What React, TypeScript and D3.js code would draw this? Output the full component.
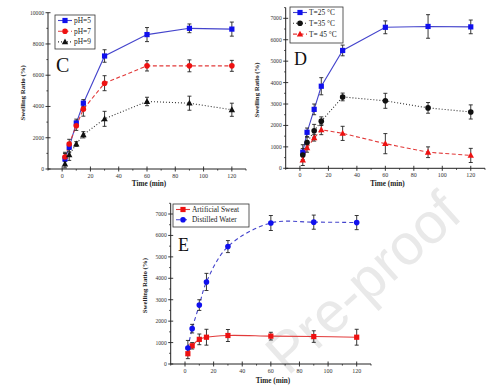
import React, { useEffect, useRef } from 'react';
import * as d3 from 'd3';

// sampling times (min), shared by every panel
const times = [2, 5, 10, 15, 30, 60, 90, 120];
const xTicks = [0, 20, 40, 60, 80, 100, 120];

// panel C: pH
const cPH5 = [640, 1400, 2940, 4210, 7230, 8600, 9000, 8950];
const cPH5Err = [350, 300, 250, 230, 400, 450, 280, 450];
const cPH7 = [770, 1600, 2770, 3830, 5490, 6600, 6600, 6600];
const cPH7Err = [300, 300, 300, 450, 480, 330, 380, 350];
const cPH9 = [320, 900, 1600, 2190, 3210, 4320, 4210, 3790];
const cPH9Err = [250, 350, 150, 200, 480, 270, 450, 420];
const cYTicks = [0, 2000, 4000, 6000, 8000, 10000];

// panel D: temperature
const dT25 = [750, 1680, 2750, 3830, 5500, 6580, 6620, 6600];
const dT25Err = [350, 200, 250, 400, 250, 300, 550, 320];
const dT35 = [620, 1200, 1750, 2200, 3330, 3150, 2820, 2630];
const dT35Err = [300, 250, 300, 200, 180, 350, 250, 330];
const dT45 = [380, 950, 1420, 1800, 1630, 1150, 750, 600];
const dT45Err = [250, 200, 150, 230, 330, 470, 250, 330];
const dYTicks = [0, 1000, 2000, 3000, 4000, 5000, 6000, 7000];

// panel E: medium
const eSweat = [480, 850, 1150, 1250, 1330, 1300, 1280, 1250];
const eSweatErr = [230, 150, 250, 370, 280, 180, 270, 370];
const eWater = [750, 1650, 2750, 3830, 5480, 6580, 6620, 6600];
const eWaterErr = [350, 200, 250, 400, 280, 350, 330, 330];

const BLUE = '#1010ee';
const BLUE_LINE = '#4444cc';
const RED = '#ee1111';
const RED_LINE = '#e23a3a';
const BLACK = '#111';

type Series = {
  name: string;
  values: number[];
  errors: number[];
  color: string;
  lineColor: string;
  dash: string;
  marker: 'square' | 'circle' | 'triangle';
};

type PanelCfg = {
  letter: string;
  x0: number; // pixel of x = -10
  x1: number; // pixel of x = 130
  yBottom: number;
  yTop: number;
  yMax: number;
  yTicks: number[];
  yMinor: number;
  series: Series[];
  curve: d3.CurveFactory;
  legend: { x: number; y: number; w: number; h: number; rowH: number };
  letterPos: [number, number, number];
  yTitleX: number;
  xTitleY: number;
};

const panels: PanelCfg[] = [
  {
    letter: 'C', x0: 48, x1: 246, yBottom: 169, yTop: 12.7, yMax: 10000,
    yTicks: cYTicks, yMinor: 1000, curve: d3.curveLinear,
    series: [
      { name: 'pH=5', values: cPH5, errors: cPH5Err, color: BLUE, lineColor: BLUE_LINE, dash: '', marker: 'square' },
      { name: 'pH=7', values: cPH7, errors: cPH7Err, color: RED, lineColor: RED_LINE, dash: '4,2.5', marker: 'circle' },
      { name: 'pH=9', values: cPH9, errors: cPH9Err, color: BLACK, lineColor: '#333', dash: '1,2', marker: 'triangle' },
    ],
    legend: { x: 55, y: 15, w: 40, h: 34, rowH: 10.7 },
    letterPos: [56, 72, 20], yTitleX: 25, xTitleY: 186,
  },
  {
    letter: 'D', x0: 285.7, x1: 485, yBottom: 168.3, yTop: 7.6, yMax: 7500,
    yTicks: dYTicks, yMinor: 500, curve: d3.curveLinear,
    series: [
      { name: 'T=25 \u00B0C', values: dT25, errors: dT25Err, color: BLUE, lineColor: BLUE_LINE, dash: '', marker: 'square' },
      { name: 'T=35 \u00B0C', values: dT35, errors: dT35Err, color: BLACK, lineColor: '#333', dash: '1,2', marker: 'circle' },
      { name: 'T= 45 \u00B0C', values: dT45, errors: dT45Err, color: RED, lineColor: RED_LINE, dash: '4,2.5', marker: 'triangle' },
    ],
    legend: { x: 290, y: 7, w: 53, h: 36, rowH: 10.8 },
    letterPos: [294, 65, 18], yTitleX: 259, xTitleY: 186,
  },
  {
    letter: 'E', x0: 170.7, x1: 371, yBottom: 364, yTop: 203.3, yMax: 7500,
    yTicks: dYTicks, yMinor: 500, curve: d3.curveCatmullRom,
    series: [
      { name: 'Artificial Sweat', values: eSweat, errors: eSweatErr, color: RED, lineColor: RED_LINE, dash: '', marker: 'square' },
      { name: 'Distilled Water', values: eWater, errors: eWaterErr, color: BLUE, lineColor: BLUE_LINE, dash: '4,3', marker: 'circle' },
    ],
    legend: { x: 173, y: 204, w: 76, h: 23, rowH: 10.2 },
    letterPos: [178, 251, 18], yTitleX: 147, xTitleY: 383,
  },
];

function drawMarker(g: d3.Selection<SVGGElement, unknown, null, undefined>, kind: string, cx: number, cy: number, color: string) {
  if (kind === 'square') {
    g.append('rect').attr('x', cx - 2.6).attr('y', cy - 2.6).attr('width', 5.2).attr('height', 5.2).attr('fill', color);
  } else if (kind === 'circle') {
    g.append('circle').attr('cx', cx).attr('cy', cy).attr('r', 2.8).attr('fill', color);
  } else {
    g.append('path').attr('d', `M${cx},${cy - 3.4}L${cx + 3.2},${cy + 2.4}L${cx - 3.2},${cy + 2.4}Z`).attr('fill', color);
  }
}

const App = () => {
  const ref = useRef<SVGSVGElement | null>(null);

  useEffect(() => {
    if (!ref.current) return;
    const svg = d3.select(ref.current);
    svg.selectAll('*').remove();

    svg.append('rect').attr('width', 500).attr('height', 390).attr('fill', '#fff');

    // watermark behind everything
    svg.append('text')
      .attr('transform', 'translate(366,286) rotate(-42)')
      .attr('text-anchor', 'middle')
      .attr('dominant-baseline', 'middle')
      .attr('font-family', 'Liberation Sans, Arial, sans-serif')
      .attr('font-size', 57)
      .attr('fill', '#e9e9e9')
      .text('Pre-proof');

    panels.forEach((p) => {
      const g = svg.append('g');
      const x = d3.scaleLinear().domain([-10, 130]).range([p.x0, p.x1]);
      const y = d3.scaleLinear().domain([0, p.yMax]).range([p.yBottom, p.yTop]);

      // axes lines
      g.append('line').attr('x1', p.x0).attr('x2', p.x0).attr('y1', p.yBottom).attr('y2', p.yTop)
        .attr('stroke', '#222').attr('stroke-width', 1);
      g.append('line').attr('x1', p.x0).attr('x2', p.x1).attr('y1', p.yBottom).attr('y2', p.yBottom)
        .attr('stroke', '#222').attr('stroke-width', 1);

      // x ticks
      xTicks.forEach((t) => {
        g.append('line').attr('x1', x(t)).attr('x2', x(t)).attr('y1', p.yBottom - 2.5).attr('y2', p.yBottom + 2.5)
          .attr('stroke', '#222').attr('stroke-width', 0.9);
        g.append('text').attr('x', x(t)).attr('y', p.yBottom + 9)
          .attr('text-anchor', 'middle').attr('font-family', 'Liberation Serif, serif')
          .attr('font-size', 6).attr('fill', '#333').text(t);
      });
      d3.range(-10, 131, 20).forEach((t) => {
        g.append('line').attr('x1', x(t)).attr('x2', x(t)).attr('y1', p.yBottom).attr('y2', p.yBottom + 1.6)
          .attr('stroke', '#222').attr('stroke-width', 0.8);
      });

      // y ticks
      p.yTicks.forEach((t) => {
        g.append('line').attr('x1', p.x0 - 2.5).attr('x2', p.x0 + 2.5).attr('y1', y(t)).attr('y2', y(t))
          .attr('stroke', '#222').attr('stroke-width', 0.9);
        g.append('text').attr('x', p.x0 - 4).attr('y', y(t) + 2)
          .attr('text-anchor', 'end').attr('font-family', 'Liberation Serif, serif')
          .attr('font-size', 5.6).attr('fill', '#333').text(t);
      });
      d3.range(p.yMinor, p.yMax + 1, p.yMinor * 2).forEach((t) => {
        g.append('line').attr('x1', p.x0 - 1.6).attr('x2', p.x0).attr('y1', y(t)).attr('y2', y(t))
          .attr('stroke', '#222').attr('stroke-width', 0.8);
      });

      // axis titles
      g.append('text')
        .attr('transform', `translate(${p.yTitleX},${(p.yBottom + p.yTop) / 2 + 2}) rotate(-90)`)
        .attr('text-anchor', 'middle').attr('font-family', 'Liberation Serif, serif')
        .attr('font-weight', 'bold').attr('font-size', 6.8).attr('fill', '#222').text('Swelling Ratio (%)');
      g.append('text').attr('x', (x(0) + x(120)) / 2 + 2).attr('y', p.xTitleY)
        .attr('text-anchor', 'middle').attr('font-family', 'Liberation Serif, serif')
        .attr('font-weight', 'bold').attr('font-size', 7.2).attr('fill', '#222').text('Time (min)');

      // panel letter
      g.append('text').attr('x', p.letterPos[0]).attr('y', p.letterPos[1])
        .attr('font-family', 'Liberation Serif, serif').attr('font-size', p.letterPos[2])
        .attr('fill', '#111').text(p.letter);

      // lines
      p.series.forEach((s) => {
        const line = d3.line<number>()
          .x((_, i) => x(times[i]))
          .y((v) => y(v))
          .curve(p.curve);
        g.append('path').attr('d', line(s.values)!).attr('fill', 'none')
          .attr('stroke', s.lineColor).attr('stroke-width', 1.1)
          .attr('stroke-dasharray', s.dash || null);
      });

      // error bars
      p.series.forEach((s) => {
        s.values.forEach((v, i) => {
          const cx = x(times[i]);
          const lo = y(v - s.errors[i]);
          const hi = y(v + s.errors[i]);
          g.append('line').attr('x1', cx).attr('x2', cx).attr('y1', lo).attr('y2', hi)
            .attr('stroke', '#222').attr('stroke-width', 0.9);
          [lo, hi].forEach((yy) => {
            g.append('line').attr('x1', cx - 2).attr('x2', cx + 2).attr('y1', yy).attr('y2', yy)
              .attr('stroke', '#222').attr('stroke-width', 0.9);
          });
        });
      });

      // markers
      p.series.forEach((s) => {
        s.values.forEach((v, i) => drawMarker(g, s.marker, x(times[i]), y(v), s.color));
      });

      // legend
      const L = p.legend;
      g.append('rect').attr('x', L.x).attr('y', L.y).attr('width', L.w).attr('height', L.h)
        .attr('fill', '#fff').attr('stroke', '#333').attr('stroke-width', 0.8);
      p.series.forEach((s, i) => {
        const cy = L.y + 5.5 + i * L.rowH;
        g.append('line').attr('x1', L.x + 3).attr('x2', L.x + 17).attr('y1', cy).attr('y2', cy)
          .attr('stroke', s.lineColor).attr('stroke-width', 1.1).attr('stroke-dasharray', s.dash || null);
        drawMarker(g, s.marker, L.x + 10, cy, s.color);
        g.append('text').attr('x', L.x + 19).attr('y', cy + 2.5)
          .attr('font-family', 'Liberation Serif, serif').attr('font-size', 7.4)
          .attr('fill', '#222').text(s.name);
      });
    });
  }, []);

  return (
    <svg ref={ref} width={500} height={390} style={{ position: 'absolute', left: 0, top: 0 }} />
  );
};

export default App;
